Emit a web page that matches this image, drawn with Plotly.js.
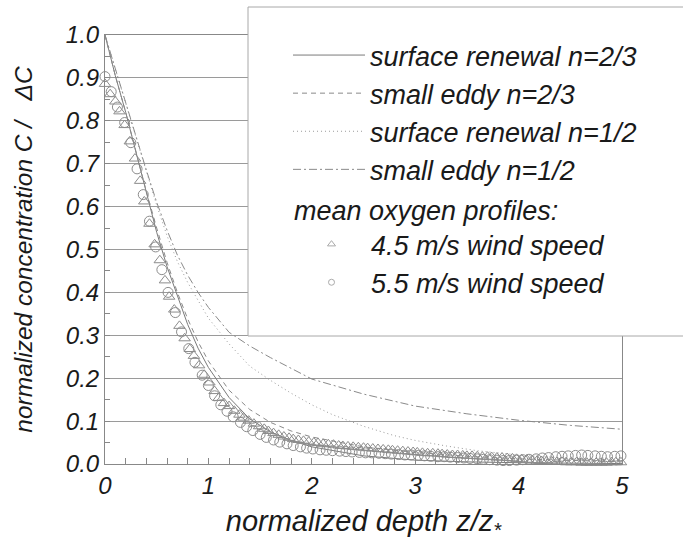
<!DOCTYPE html>
<html>
<head>
<meta charset="utf-8">
<script src="https://cdn.plot.ly/plotly-3.0.1.min.js"></script>
<style>html,body{margin:0;padding:0;background:#fff;}#chart{width:683px;height:551px;}</style>
</head>
<body>
<div id="chart"></div>
<script>
// ---- model curves ----
const srN23X = [0,0.1,0.2,0.3,0.4,0.5,0.6,0.7,0.8,0.9,1.0,1.2,1.4,1.6,1.8,2.0,2.5,3.0,3.5,4.0,5.0];
const srN23Y = [1.0,0.905,0.82,0.725,0.63,0.54,0.46,0.39,0.325,0.27,0.225,0.155,0.105,0.075,0.055,0.04,0.019,0.009,0.005,0.003,0.001];
const seN23X = [0,0.1,0.2,0.3,0.4,0.5,0.6,0.7,0.8,0.9,1.0,1.2,1.4,1.6,1.8,2.0,2.5,3.0,3.5,4.0,4.5,5.0];
const seN23Y = [1.0,0.905,0.82,0.727,0.635,0.55,0.47,0.4,0.338,0.285,0.24,0.172,0.127,0.097,0.077,0.063,0.04,0.027,0.018,0.012,0.008,0.005];
const srN12X = [0,0.1,0.2,0.3,0.4,0.5,0.6,0.7,0.8,0.9,1.0,1.2,1.4,1.6,1.8,2.0,2.2,2.5,2.8,3.0,3.3,3.6,4.0,4.5,5.0];
const srN12Y = [1.0,0.92,0.84,0.76,0.68,0.603,0.532,0.472,0.423,0.38,0.34,0.28,0.228,0.195,0.165,0.138,0.115,0.088,0.066,0.055,0.042,0.031,0.021,0.013,0.008];
const seN12X = [0,0.1,0.2,0.3,0.4,0.5,0.6,0.7,0.8,0.9,1.0,1.2,1.4,1.6,1.8,2.0,2.5,3.0,3.5,4.0,4.5,5.0];
const seN12Y = [1.0,0.92,0.84,0.76,0.685,0.61,0.545,0.487,0.44,0.4,0.365,0.307,0.275,0.248,0.222,0.198,0.163,0.135,0.117,0.102,0.09,0.081];

// ---- mean oxygen profiles ----
const wind45X = [0.00,0.05,0.10,0.14,0.19,0.24,0.29,0.34,0.38,0.43,0.48,0.53,0.58,0.62,0.67,0.72,0.77,0.82,0.86,0.91,0.96,1.01,1.06,1.10,1.15,1.20,1.25,1.30,1.34,1.39,1.44,1.49,1.54,1.58,1.63,1.68,1.73,1.78,1.82,1.87,1.92,1.97,2.02,2.06,2.11,2.16,2.21,2.26,2.30,2.35,2.40,2.45,2.50,2.54,2.59,2.64,2.69,2.74,2.78,2.83,2.88,2.93,2.98,3.02,3.07,3.12,3.17,3.22,3.26,3.31,3.36,3.41,3.46,3.50,3.55,3.60,3.65,3.70,3.74,3.79,3.84,3.89,3.94,3.98,4.03,4.08,4.13,4.18,4.22,4.27,4.32,4.37,4.42,4.46,4.51,4.56,4.61,4.66,4.70,4.75,4.80,4.85,4.90,4.94,4.99];
const wind45Y = [0.886,0.862,0.845,0.822,0.790,0.752,0.712,0.660,0.612,0.560,0.512,0.475,0.428,0.390,0.360,0.322,0.293,0.268,0.252,0.230,0.208,0.190,0.170,0.154,0.142,0.135,0.124,0.115,0.108,0.101,0.094,0.088,0.082,0.077,0.072,0.068,0.064,0.061,0.058,0.056,0.054,0.052,0.050,0.049,0.047,0.046,0.045,0.043,0.042,0.041,0.040,0.039,0.038,0.037,0.036,0.035,0.034,0.033,0.032,0.031,0.030,0.029,0.028,0.027,0.026,0.025,0.025,0.024,0.023,0.022,0.021,0.021,0.020,0.019,0.019,0.018,0.017,0.017,0.016,0.015,0.015,0.014,0.013,0.012,0.011,0.010,0.009,0.008,0.007,0.006,0.006,0.005,0.005,0.004,0.004,0.004,0.003,0.003,0.003,0.003,0.003,0.003,0.004,0.004,0.004];
const wind55X = [0.00,0.06,0.12,0.19,0.25,0.31,0.37,0.43,0.49,0.55,0.61,0.68,0.74,0.81,0.87,0.94,1.00,1.06,1.12,1.18,1.24,1.31,1.37,1.43,1.50,1.56,1.63,1.69,1.76,1.82,1.89,1.95,2.01,2.08,2.14,2.20,2.27,2.33,2.39,2.46,2.52,2.58,2.65,2.71,2.77,2.84,2.90,2.96,3.03,3.09,3.15,3.22,3.28,3.34,3.41,3.47,3.53,3.60,3.66,3.72,3.79,3.85,3.91,3.98,4.04,4.10,4.17,4.23,4.29,4.36,4.42,4.48,4.55,4.61,4.67,4.74,4.80,4.86,4.93,4.99];
const wind55Y = [0.903,0.868,0.832,0.796,0.749,0.688,0.628,0.566,0.506,0.453,0.400,0.353,0.308,0.269,0.237,0.207,0.183,0.159,0.138,0.123,0.110,0.097,0.087,0.078,0.069,0.062,0.056,0.051,0.047,0.043,0.040,0.037,0.035,0.033,0.032,0.031,0.030,0.029,0.028,0.027,0.026,0.026,0.025,0.024,0.023,0.022,0.021,0.021,0.020,0.019,0.018,0.017,0.017,0.016,0.015,0.014,0.013,0.012,0.011,0.010,0.009,0.008,0.008,0.009,0.010,0.011,0.012,0.014,0.015,0.017,0.018,0.019,0.020,0.021,0.020,0.019,0.018,0.017,0.018,0.019];

const names = ['surface renewal n=2/3','small eddy n=2/3','surface renewal n=1/2','small eddy n=1/2','4.5 m/s wind speed','5.5 m/s wind speed'];
const profilesHeading = 'mean oxygen profiles:';
const yTicks = [0,0.1,0.2,0.3,0.4,0.5,0.6,0.7,0.8,0.9,1.0];
const xTicks = [0,1,2,3,4,5];

const FONT = 'Liberation Sans, Arial, Helvetica, sans-serif';
const TXT = '#1a1a1a';
const LC = '#8a8a8a';
const MC = '#8c8c8c';
const fnt = s => ({family:FONT, size:s, color:TXT, style:'italic'});
const NB = n => '\u00A0'.repeat(n);

function lineTrace(x, y, name, dash, color, gi) {
  return {x, y, name, type:'scatter', mode:'lines', line:{color, width:1, dash},
          legend:'legend', legendrank:gi, cliponaxis:true};
}
const traces = [
  lineTrace(srN23X, srN23Y, names[0], 'solid', '#7a7a7a', 1),
  lineTrace(seN23X, seN23Y, names[1], '5px,4px', LC, 2),
  lineTrace(srN12X, srN12Y, names[2], '1px,3px', '#9a9a9a', 3),
  lineTrace(seN12X, seN12Y, names[3], '8px,3px,2px,3px', LC, 4),
  {x:wind45X, y:wind45Y, name:names[4], type:'scatter', mode:'markers', showlegend:false, cliponaxis:false,
   marker:{symbol:'triangle-up-open', size:10, color:MC, line:{width:1, color:MC}}},
  {x:wind55X, y:wind55Y, name:names[5], type:'scatter', mode:'markers', showlegend:false, cliponaxis:false,
   marker:{symbol:'circle-open', size:10, color:MC, line:{width:1, color:MC}}},
  // legend-only samples (smaller symbols, as in the original key)
  {x:[null], y:[null], name:names[4], type:'scatter', mode:'markers', legend:'legend2', legendrank:1,
   marker:{symbol:'triangle-up-open', size:7, color:'#aaa', line:{width:1, color:'#aaa'}}},
  {x:[null], y:[null], name:names[5], type:'scatter', mode:'markers', legend:'legend2', legendrank:2,
   marker:{symbol:'circle-open', size:6, color:'#aaa', line:{width:1, color:'#aaa'}}}
];

const L = 105, R = 61, T = 35, B = 87, W = 683, H = 551;
const pw = W - L - R, ph = H - T - B;
const px2x = p => (p - L) / pw;
const px2y = p => (H - B - p) / ph;

const layout = {
  width: W, height: H,
  margin: {l:L, r:R, t:T, b:B, pad:0},
  paper_bgcolor:'#fff', plot_bgcolor:'#fff',
  font: fnt(24),
  showlegend: true,
  xaxis: {
    range:[0,5], tickmode:'array', tickvals:xTicks, ticktext:xTicks.map(String),
    ticks:'inside', ticklen:6, tickcolor:'#888', tickwidth:1,
    minor:{dtick:0.2, tick0:0, ticks:'inside', ticklen:6, tickcolor:'#888', showgrid:false},
    showgrid:false, zeroline:false, showline:true, linecolor:'#888', linewidth:1, mirror:true,
    tickfont:fnt(24),
    title:{text:'normalized depth z/z<sub>*</sub>', font:fnt(29), standoff:12},
    automargin:false
  },
  yaxis: {
    range:[0,1], tickmode:'array', tickvals:yTicks, ticktext:yTicks.map(v=>v.toFixed(1)),
    ticks:'inside', ticklen:5, tickcolor:'#888', tickwidth:1,
    minor:{dtick:0.05, tick0:0, ticks:'inside', ticklen:5, tickcolor:'#888', showgrid:false},
    showgrid:true, gridcolor:'#9a9a9a', gridwidth:1,
    zeroline:false, showline:true, linecolor:'#888', linewidth:1, mirror:true,
    tickfont:fnt(24),
    title:{text: NB(8) + 'normalized concentration C /' + NB(3) + 'ΔC', font:fnt(24.5), standoff:26},
    automargin:false
  },
  legend: {
    x: px2x(288), y: px2y(31), xanchor:'left', yanchor:'top',
    bgcolor:'rgba(0,0,0,0)', borderwidth:0,
    traceorder:'normal', itemwidth:72,
    font:fnt(27), itemclick:false
  },
  legend2: {
    x: px2x(292), y: px2y(185), xanchor:'left', yanchor:'top',
    bgcolor:'rgba(0,0,0,0)', borderwidth:0,
    traceorder:'normal', itemwidth:69,
    title:{text:profilesHeading, font:fnt(27)},
    font:fnt(27), itemclick:false
  },
  shapes: [{
    type:'rect', xref:'paper', yref:'paper', layer:'above',
    x0: px2x(248), x1: px2x(700), y0: px2y(336), y1: px2y(7),
    fillcolor:'#fff', line:{color:'#a8a8a8', width:1}
  }]
};

Plotly.newPlot('chart', traces, layout, {displayModeBar:false, staticPlot:true});
</script>
</body>
</html>
